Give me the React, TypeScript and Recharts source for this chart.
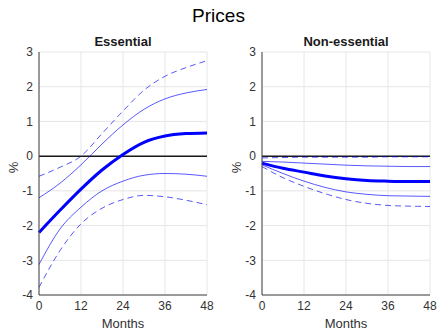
import React from 'react';
import { LineChart, Line, XAxis, YAxis, CartesianGrid, ReferenceLine, Label } from 'recharts';

const months = [0, 6, 12, 18, 24, 30, 36, 42, 48];
const xTicks = [0, 12, 24, 36, 48];
const yTicks = [-4, -3, -2, -1, 0, 1, 2, 3];

// Essential goods: median response with 68% and 90% bands
const essMedian = [-2.2, -1.56, -0.95, -0.4, 0.05, 0.4, 0.58, 0.65, 0.67];
const essUpper68 = [-1.2, -0.78, -0.25, 0.35, 0.9, 1.35, 1.65, 1.82, 1.92];
const essLower68 = [-3.12, -2.1, -1.47, -1.0, -0.72, -0.55, -0.5, -0.52, -0.58];
const essUpper90 = [-0.58, -0.32, 0.0, 0.65, 1.3, 1.9, 2.3, 2.55, 2.75];
const essLower90 = [-3.78, -2.72, -1.95, -1.5, -1.25, -1.13, -1.17, -1.27, -1.4];

// Non-essential goods
const neMedian = [-0.2, -0.35, -0.46, -0.57, -0.65, -0.7, -0.72, -0.73, -0.73];
const neUpper68 = [-0.15, -0.17, -0.2, -0.23, -0.26, -0.28, -0.29, -0.3, -0.3];
const neLower68 = [-0.25, -0.5, -0.72, -0.9, -1.03, -1.1, -1.14, -1.15, -1.16];
const neUpper90 = [-0.05, -0.04, -0.03, -0.03, -0.03, -0.03, -0.02, -0.02, -0.02];
const neLower90 = [-0.3, -0.62, -0.87, -1.08, -1.25, -1.36, -1.42, -1.44, -1.45];

const FONT = '"Liberation Sans", Arial, Helvetica, sans-serif';
const AXIS_COLOR = '#404040';
const TEXT_COLOR = '#333333';
const BLUE = '#0000ff';

function buildRows(median: number[], u68: number[], l68: number[], u90: number[], l90: number[]) {
  return months.map((m, i) => ({
    month: m,
    median: median[i],
    u68: u68[i],
    l68: l68[i],
    u90: u90[i],
    l90: l90[i],
  }));
}

interface PanelProps {
  title: string;
  data: ReturnType<typeof buildRows>;
  left: number;
  width: number;
  yAxisWidth: number;
  rightMargin: number;
  pctX: number;
}

function Panel({ title, data, left, width, yAxisWidth, rightMargin, pctX }: PanelProps) {
  const plotLeft = yAxisWidth;
  const plotRight = width - rightMargin;
  return (
    <div style={{ position: 'absolute', left, top: 0, width, height: 331 }}>
      <div
        style={{
          position: 'absolute',
          left: plotLeft,
          width: plotRight - plotLeft,
          top: 34,
          textAlign: 'center',
          fontFamily: FONT,
          fontWeight: 'bold',
          fontSize: 13,
          color: '#1a1a1a',
        }}
      >
        {title}
      </div>
      <div
        style={{
          position: 'absolute',
          left: pctX - 10,
          top: 160,
          width: 20,
          textAlign: 'center',
          transform: 'rotate(-90deg)',
          fontFamily: FONT,
          fontSize: 13,
          color: TEXT_COLOR,
        }}
      >
        %
      </div>
      <LineChart width={width} height={331} data={data} margin={{ top: 52, right: rightMargin, left: 0, bottom: 0 }}>
        <CartesianGrid stroke="#e6e6e6" strokeWidth={1} />
        <XAxis
          dataKey="month"
          type="number"
          domain={[0, 48]}
          ticks={xTicks}
          height={36}
          tickLine={false}
          tickSize={4}
          tickMargin={2}
          axisLine={{ stroke: AXIS_COLOR }}
          tick={{ fill: TEXT_COLOR, fontSize: 12, fontFamily: FONT }}
        >
          <Label value="Months" position="insideBottom" offset={3} style={{ fill: TEXT_COLOR, fontSize: 13, fontFamily: FONT }} />
        </XAxis>
        <YAxis
          type="number"
          domain={[-4, 3]}
          ticks={yTicks}
          width={yAxisWidth}
          tickLine={false}
          tickSize={4}
          tickMargin={2}
          axisLine={{ stroke: AXIS_COLOR }}
          tick={{ fill: TEXT_COLOR, fontSize: 12, fontFamily: FONT }}
        />
        <ReferenceLine y={0} stroke="#1a1a1a" strokeWidth={1.5} />
        <Line type="monotone" dataKey="u90" stroke={BLUE} strokeOpacity={0.65} strokeWidth={1} strokeDasharray="6 4" dot={false} isAnimationActive={false} />
        <Line type="monotone" dataKey="l90" stroke={BLUE} strokeOpacity={0.65} strokeWidth={1} strokeDasharray="6 4" dot={false} isAnimationActive={false} />
        <Line type="monotone" dataKey="u68" stroke={BLUE} strokeOpacity={0.65} strokeWidth={1} dot={false} isAnimationActive={false} />
        <Line type="monotone" dataKey="l68" stroke={BLUE} strokeOpacity={0.65} strokeWidth={1} dot={false} isAnimationActive={false} />
        <Line type="monotone" dataKey="median" stroke={BLUE} strokeWidth={3} dot={false} isAnimationActive={false} />
      </LineChart>
    </div>
  );
}

export default function App() {
  const essData = buildRows(essMedian, essUpper68, essLower68, essUpper90, essLower90);
  const neData = buildRows(neMedian, neUpper68, neLower68, neUpper90, neLower90);
  return (
    <div style={{ position: 'absolute', left: 0, top: 0, width: 437, height: 331, background: '#fff', overflow: 'hidden' }}>
      <div
        style={{
          position: 'absolute',
          left: 0,
          width: 437,
          top: 5,
          textAlign: 'center',
          fontFamily: FONT,
          fontSize: 19,
          color: '#000',
        }}
      >
        Prices
      </div>
      <Panel title="Essential" data={essData} left={0} width={220} yAxisWidth={39} rightMargin={13} pctX={13} />
      <Panel title="Non-essential" data={neData} left={218} width={219} yAxisWidth={44} rightMargin={7} pctX={18} />
    </div>
  );
}
